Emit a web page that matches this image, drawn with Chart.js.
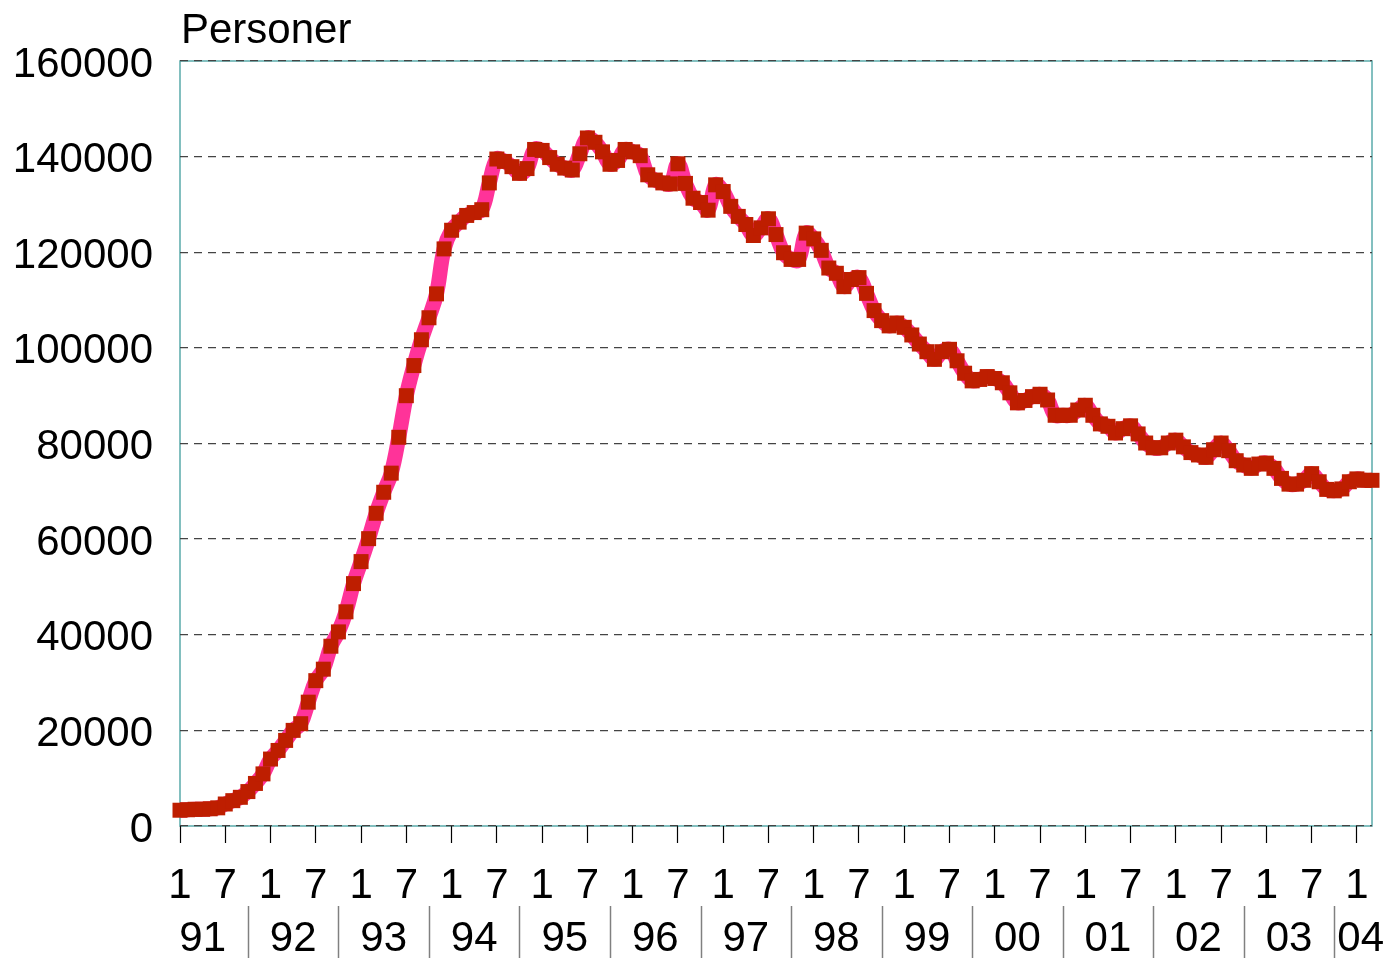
<!DOCTYPE html>
<html>
<head>
<meta charset="utf-8">
<script src="https://cdn.jsdelivr.net/npm/chart.js@4/dist/chart.umd.min.js"></script>
<style>
  html, body { margin: 0; padding: 0; background: #fff; }
  canvas { display: block; }
</style>
</head>
<body>
<canvas id="chart" width="1386" height="958"></canvas>
<script>
// Persons per month, Jan 1991 - Mar 2004

const years = ['91', '92', '93', '94', '95', '96', '97', '98', '99', '00', '01', '02', '03', '04'];
const monthTicks = { 0: '1', 6: '7' };  // month index in year -> tick label

const y1991 = [3300, 3400, 3500, 3500, 3600, 3800, 4600, 5300, 6000, 7200, 8900, 10900];
const y1992 = [14000, 15800, 17900, 20000, 21400, 25900, 30400, 32800, 37600, 40600, 44800, 50700];
const y1993 = [55300, 60100, 65400, 69800, 73800, 81300, 90000, 96300, 101700, 106300, 111300, 120700];
const y1994 = [124600, 126300, 127700, 128300, 128900, 134500, 139500, 139000, 137900, 136500, 137500, 141500];
const y1995 = [141300, 139800, 138400, 137600, 137200, 140600, 143900, 143000, 141000, 138400, 139200, 141500];
const y1996 = [141000, 140200, 136200, 135100, 134500, 134300, 138500, 134400, 131300, 130400, 128800, 134100];
const y1997 = [132700, 129600, 127500, 125800, 123500, 125100, 127000, 123700, 119900, 118500, 118500, 124000];
const y1998 = [122800, 120400, 116700, 115600, 112800, 114300, 114700, 111400, 107800, 105700, 104600, 105200];
const y1999 = [104300, 102700, 100800, 99200, 97600, 99200, 99700, 97300, 94700, 93100, 93400, 94000];
const y2000 = [93600, 92700, 90600, 88500, 89000, 89800, 90300, 89100, 85900, 85900, 85900, 87000];
const y2001 = [88000, 85900, 84100, 83600, 82200, 83100, 83700, 82000, 80100, 79100, 79100, 80100];
const y2002 = [80700, 79300, 78100, 77600, 77100, 78700, 80100, 78500, 76400, 75500, 74800, 75700];
const y2003 = [75900, 74800, 72700, 71500, 71500, 72300, 73700, 72000, 70400, 70100, 70500, 72000];
const y2004 = [72600, 72300, 72300];

const yTicks = [0, 20000, 40000, 60000, 80000, 100000, 120000, 140000, 160000];

const values = [].concat(y1991, y1992, y1993, y1994, y1995, y1996, y1997,
  y1998, y1999, y2000, y2001, y2002, y2003, y2004);

const labels = [];
const tickText = [];
for (let i = 0; i < values.length; i++) {
  labels.push(years[Math.floor(i / 12)] + '-' + (i % 12 + 1));
  tickText.push(monthTicks[i % 12] || '');
}

const FONT = '"Liberation Sans", Arial, Helvetica, sans-serif';
const TEAL = '#5aabab';

// plot frame under the grid, title and two-level year labels on top
const frame = {
  id: 'frame',
  beforeDraw(chart) {
    const { ctx, chartArea: a } = chart;
    ctx.save();
    ctx.strokeStyle = TEAL;
    ctx.lineWidth = 1.5;
    ctx.strokeRect(a.left, a.top, a.right - a.left, a.bottom - a.top);
    ctx.restore();
  },
  afterDraw(chart) {
    const { ctx, chartArea: a } = chart;
    const x = chart.scales.x;
    ctx.save();
    ctx.fillStyle = '#000';
    ctx.font = '42px ' + FONT;
    ctx.textBaseline = 'alphabetic';
    ctx.textAlign = 'left';
    ctx.fillText('Personer', a.left + 1, 43);

    // separators between years
    ctx.strokeStyle = '#808080';
    ctx.lineWidth = 1.5;
    for (let k = 0; k < years.length - 1; k++) {
      const px = Math.round(x.getPixelForValue(12 * k + 9)) + 0.5;
      ctx.beginPath();
      ctx.moveTo(px, 906);
      ctx.lineTo(px, 958);
      ctx.stroke();
    }
    for (let k = 0; k < years.length; k++) {
      const c = 12 * k + 3;
      if (c < values.length) {
        ctx.textAlign = 'center';
        ctx.fillText(years[k], x.getPixelForValue(c), 951);
      } else {
        ctx.textAlign = 'left';
        ctx.fillText(years[k], x.getPixelForValue(12 * k - 3) + 3, 951);
      }
    }
    ctx.restore();
  }
};

new Chart(document.getElementById('chart'), {
  type: 'line',
  data: {
    labels,
    datasets: [{
      data: values,
      borderColor: '#ff3399',
      borderWidth: 15,
      tension: 0.4,
      pointStyle: 'rect',
      pointRadius: 10.6,
      pointBorderWidth: 0,
      pointBackgroundColor: '#be1e00',
      pointBorderColor: '#be1e00',
      clip: false
    }]
  },
  options: {
    responsive: false,
    animation: false,
    layout: { padding: { top: 61, right: 14, left: 0, bottom: 0 } },
    plugins: {
      legend: { display: false },
      tooltip: { enabled: false }
    },
    scales: {
      x: {
        offset: false,
        afterFit: (s) => { s.height = 132; s.paddingLeft = 0; s.paddingRight = 0; },
        border: { display: false },
        grid: {
          drawOnChartArea: false,
          tickLength: 17,
          tickWidth: 1.2,
          tickColor: (c) => (tickText[c.index] ? '#000' : 'rgba(0,0,0,0)')
        },
        ticks: {
          autoSkip: false,
          maxRotation: 0,
          minRotation: 0,
          padding: 18,
          color: '#000',
          font: { family: FONT, size: 42 },
          callback: (v, i) => tickText[i]
        }
      },
      y: {
        min: 0,
        max: 160000,
        afterFit: (s) => { s.width = 180; },
        afterBuildTicks: (s) => { s.ticks = yTicks.map(v => ({ value: v })); },
        border: { display: false, dash: [8, 6] },
        grid: {
          drawTicks: false,
          color: '#444',
          lineWidth: 1.3
        },
        ticks: {
          padding: 27,
          labelOffset: 4,
          color: '#000',
          font: { family: FONT, size: 42 },
          callback: (v) => String(v)
        }
      }
    }
  },
  plugins: [frame]
});
</script>
</body>
</html>
